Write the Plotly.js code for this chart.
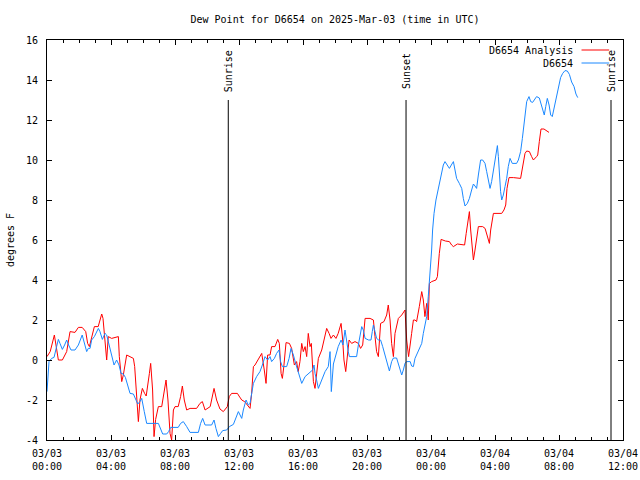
<!DOCTYPE html>
<html>
<head>
<meta charset="utf-8">
<script src="https://cdn.plot.ly/plotly-3.0.1.min.js"></script>
<style>html,body{margin:0;padding:0;background:#fff;}#chart{width:640px;height:480px;}</style>
</head>
<body>
<div id="chart"></div>
<script>
// Hours since 2025-03-03 00:00 UTC
var analysisHours = [0.0,0.2,0.46,0.55,0.71,0.96,1.23,1.44,1.75,1.96,2.2,2.42,2.54,2.65,2.96,3.2,3.42,3.5,3.62,3.73,3.83,4.04,4.46,4.52,4.67,4.77,4.98,5.4,5.48,5.6,5.71,5.81,5.96,6.1,6.2,6.4,6.48,6.6,6.69,6.79,6.96,7.17,7.31,7.44,7.56,7.69,7.79,7.9,8.0,8.2,8.35,8.46,8.58,8.73,8.94,9.35,9.56,9.71,9.88,10.2,10.44,10.6,10.81,11.02,11.27,11.39,11.54,11.9,12.0,12.17,12.35,12.54,12.69,12.79,12.9,13.0,13.2,13.42,13.58,13.69,13.79,13.94,14.04,14.25,14.42,14.52,14.63,14.71,14.8,14.94,15.15,15.29,15.46,15.6,15.7,15.81,15.92,16.02,16.13,16.23,16.33,16.44,16.52,16.65,16.75,16.85,16.96,17.17,17.33,17.48,17.63,17.75,17.9,18.06,18.2,18.38,18.48,18.56,18.67,18.77,18.88,19.04,19.25,19.46,19.6,19.73,19.88,20.19,20.4,20.5,20.6,20.71,20.85,21.06,21.23,21.33,21.44,21.54,21.65,21.75,21.96,22.17,22.375,22.48,22.6,22.79,22.9,23.0,23.1,23.27,23.42,23.52,23.62,23.73,23.83,23.9,24.04,24.31,24.4,24.52,24.63,24.9,25.15,25.29,25.4,25.65,25.92,26.1,26.2,26.33,26.4,26.48,26.56,26.65,26.75,26.85,26.96,27.23,27.38,27.5,27.65,27.73,27.83,27.9,28.42,28.56,28.67,28.75,28.875,29.15,29.6,29.7,29.77,29.875,29.98,30.15,30.29,30.4,30.6,30.67,30.77,30.875,31.06,31.23,31.375];
var analysisDew = [0.17,0.42,1.25,0.85,0.0,0.0,0.42,1.42,1.38,1.63,1.63,1.42,0.83,0.67,1.67,1.67,2.3,2.08,0.92,0.0,1.17,1.08,1.17,0.17,-1.08,-0.75,0.25,0.08,-0.33,-2.0,-3.08,-2.0,-1.42,-1.67,-1.8,-0.67,-0.17,-1.5,-3.83,-2.97,-2.33,-2.33,-1.67,-1.0,-2.0,-3.67,-4.0,-2.5,-2.33,-2.33,-1.83,-1.3,-2.0,-2.5,-2.42,-2.42,-2.17,-2.08,-2.5,-2.33,-1.42,-2.0,-2.45,-2.58,-2.33,-1.83,-1.67,-1.67,-1.8,-2.0,-2.08,-2.25,-2.42,-1.67,-0.33,-0.25,0.0,0.33,-0.5,-1.17,0.25,0.25,0.67,0.67,1.03,0.83,-0.67,-0.92,-0.33,0.87,0.83,0.58,-0.25,-0.08,-0.58,-0.08,0.83,0.42,0.67,0.17,1.33,0.67,0.83,-1.08,-1.42,-0.83,0.08,0.5,1.0,1.58,1.33,1.08,1.25,1.08,1.33,1.83,1.0,0.0,-0.58,0.33,1.0,0.83,0.92,0.83,0.58,0.75,2.08,2.08,2.0,1.17,0.42,0.17,1.83,1.92,2.25,2.75,2.0,0.83,0.17,1.33,2.08,2.25,2.5,1.0,0.17,1.33,2.0,2.0,1.92,2.67,3.42,3.0,2.17,2.83,2.0,3.83,3.92,4.0,4.17,5.33,6.03,5.95,5.92,5.75,5.67,5.8,5.78,5.75,6.33,7.17,7.42,6.5,5.75,5.0,5.5,6.0,6.67,6.67,6.58,6.25,5.83,6.5,7.17,7.33,7.33,7.5,7.75,8.58,9.12,9.12,9.08,9.58,9.92,10.33,10.45,10.42,10.17,10.0,10.17,10.25,10.92,11.55,11.55,11.45,11.38];

var stationHours = [0.0,0.06,0.125,0.29,0.44,0.6,0.71,0.81,0.96,1.1,1.23,1.35,1.5,1.75,1.96,2.2,2.33,2.48,2.58,2.69,2.79,2.96,3.21,3.31,3.46,3.625,3.73,3.9,4.04,4.19,4.35,4.5,4.625,4.77,4.9,4.98,5.19,5.4,5.54,5.67,5.81,5.92,6.08,6.23,6.96,7.1,7.23,7.48,7.6,7.73,8.2,8.35,8.52,8.73,8.94,9.46,9.6,9.73,9.88,10.29,10.44,10.56,10.71,10.85,10.98,11.23,11.4,11.65,11.85,11.96,12.17,12.27,12.44,12.58,12.69,12.79,12.9,13.1,13.31,13.46,13.625,13.79,13.94,14.04,14.21,14.35,14.5,14.6,14.71,14.98,15.13,15.25,15.4,15.54,15.75,15.92,16.13,16.33,16.6,16.69,16.75,16.85,16.96,17.17,17.38,17.58,17.69,17.73,17.77,17.9,18.1,18.2,18.38,18.5,18.625,18.73,18.83,18.9,19.35,19.46,19.56,19.67,19.77,19.88,20.1,20.25,20.33,20.4,20.5,20.6,20.73,20.85,20.98,21.125,21.27,21.4,21.54,21.65,21.85,21.96,22.06,22.17,22.27,22.375,22.48,22.7,22.79,22.9,23.0,23.15,23.31,23.42,23.52,23.625,23.73,23.83,23.94,24.04,24.1,24.19,24.31,24.46,24.56,24.67,24.77,24.875,25.02,25.15,25.27,25.4,25.5,25.6,25.77,25.92,26.02,26.125,26.27,26.4,26.54,26.65,26.75,26.85,26.96,27.1,27.23,27.375,27.48,27.58,27.69,27.79,27.9,28.0,28.1,28.15,28.21,28.27,28.35,28.42,28.52,28.625,28.73,28.83,28.94,29.08,29.35,29.46,29.6,29.71,29.8,29.9,29.98,30.125,30.23,30.35,30.5,30.6,30.77,30.85,30.98,31.08,31.17,31.27,31.38,31.48,31.58,31.69,31.79,31.9,32.0,32.1,32.23,32.375,32.52,32.65,32.79,32.94,33.06,33.17];
var stationDew = [-1.58,-1.0,-0.08,0.08,0.13,0.67,1.03,0.83,0.53,0.75,1.0,0.75,0.5,0.5,0.75,1.25,0.92,0.42,0.58,0.58,1.0,1.17,1.58,1.42,1.03,1.33,1.25,0.67,0.33,-0.25,0.0,-0.25,-0.67,-0.7,-0.87,-1.13,-1.67,-1.7,-2.0,-2.2,-2.08,-1.92,-2.58,-3.17,-3.17,-3.42,-3.7,-3.7,-3.58,-3.37,-3.37,-3.17,-3.08,-3.33,-3.62,-3.62,-3.17,-2.92,-3.25,-3.25,-3.0,-3.42,-3.83,-3.67,-3.53,-3.5,-3.33,-3.22,-2.83,-2.58,-2.92,-2.5,-2.0,-2.25,-2.17,-1.67,-1.17,-0.83,-0.58,-0.25,0.17,0.0,0.17,-0.08,0.08,0.33,0.5,-0.08,-0.33,-0.33,0.08,0.58,0.25,-0.17,-0.67,-1.17,-0.83,-0.67,-0.5,-0.25,-0.67,-1.0,-1.42,-1.0,-0.58,-0.33,0.42,-0.5,-1.58,-0.2,0.42,0.67,1.0,0.75,1.5,0.83,0.42,0.17,0.17,0.75,1.25,1.67,1.5,1.08,1.0,1.0,1.42,1.75,1.42,1.08,1.0,1.0,0.67,0.25,-0.25,-0.55,-0.08,0.1,0.1,-0.17,-0.5,-0.75,-0.5,-0.17,-0.08,-0.08,-0.3,-0.33,0.08,0.33,0.58,0.83,1.33,1.83,2.17,3.17,4.17,5.5,6.5,7.33,8.0,8.58,9.0,9.42,9.75,9.92,9.75,9.58,9.75,9.92,9.5,9.08,8.83,8.58,8.08,7.7,7.83,8.08,8.5,8.8,8.7,8.58,9.25,10.0,10.0,9.83,9.42,8.92,8.58,8.92,9.5,10.17,10.58,10.72,10.17,9.25,8.42,8.0,8.25,8.67,9.08,9.67,10.08,9.83,9.83,10.0,10.42,11.08,11.75,12.25,12.92,13.17,12.92,12.88,13.08,13.17,13.1,12.9,12.58,12.25,12.67,13.08,12.75,12.25,12.17,12.58,13.08,13.42,13.83,14.12,14.33,14.47,14.45,14.28,13.9,13.67,13.3,13.12];

var eventNames = ["Sunrise", "Sunset", "Sunrise"];
var eventHours = [11.33, 22.44, 35.25];

var seriesNames = ["D6654 Analysis", "D6654"];
var seriesColors = ["#ff0000", "#1a88ff"];

var yTickVals = [-4, -2, 0, 2, 4, 6, 8, 10, 12, 14, 16];
var yTickText = ["-4", "-2", "0", "2", "4", "6", "8", "10", "12", "14", "16"];

var T0 = Date.UTC(2025, 2, 3, 0, 0, 0);
var HOUR = 3600000;
function toTime(h) { return T0 + h * HOUR; }

var FONT = "DejaVu Sans Mono";
var fnt = {family: FONT, size: 10, color: "#000"};

var traces = [
  {x: analysisHours.map(toTime), y: analysisDew, type: "scatter", mode: "lines",
   name: seriesNames[0], line: {color: seriesColors[0], width: 1}},
  {x: stationHours.map(toTime), y: stationDew, type: "scatter", mode: "lines",
   name: seriesNames[1], line: {color: seriesColors[1], width: 1}}
];

var shapes = [];
var annotations = [];
eventHours.forEach(function (h, i) {
  shapes.push({type: "line", xref: "x", yref: "y", x0: toTime(h), x1: toTime(h),
    y0: -4, y1: 13, line: {color: "#000", width: 1}});
  annotations.push({xref: "x", yref: "y", x: toTime(h), y: 14.45, text: eventNames[i],
    textangle: -90, showarrow: false, font: fnt, xanchor: "center", yanchor: "middle"});
});

// gnuplot-style key (text on left, sample on right)
var keyY = [0.975, 0.9425];
seriesNames.forEach(function (n, i) {
  annotations.push({xref: "paper", yref: "paper", x: 0.916, y: keyY[i], text: n,
    showarrow: false, font: fnt, xanchor: "right", yanchor: "middle"});
  shapes.push({type: "line", xref: "paper", yref: "paper", x0: 0.928, x1: 0.976,
    y0: keyY[i], y1: keyY[i], line: {color: seriesColors[i], width: 1}});
});

var layout = {
  width: 640, height: 480,
  margin: {l: 47, r: 17, t: 40, b: 40, pad: 0},
  paper_bgcolor: "#fff", plot_bgcolor: "#fff",
  showlegend: false,
  font: fnt,
  title: {text: "Dew Point for D6654 on 2025-Mar-03 (time in UTC)", font: fnt,
    x: 0.5, xref: "paper", y: 1 - 19 / 480, yref: "container", yanchor: "middle"},
  xaxis: {
    type: "date", range: [toTime(0), toTime(36)],
    tickmode: "linear", tick0: toTime(0), dtick: 4 * HOUR,
    tickformat: "%m/%d<br>%H:%M", tickfont: fnt, ticklabelstandoff: 4,
    ticks: "inside", ticklen: 5, tickcolor: "#000", tickwidth: 1,
    minor: {dtick: HOUR, tick0: toTime(0), ticks: "inside", ticklen: 3, tickcolor: "#000", showgrid: false},
    showline: true, linecolor: "#000", linewidth: 1, mirror: "ticks",
    showgrid: false, zeroline: false, fixedrange: true
  },
  yaxis: {
    range: [-4, 16], tickmode: "array", tickvals: yTickVals, ticktext: yTickText,
    tickfont: fnt, ticks: "inside", ticklen: 5, tickcolor: "#000", tickwidth: 1,
    ticklabelstandoff: 6,
    showline: true, linecolor: "#000", linewidth: 1, mirror: "ticks",
    showgrid: false, zeroline: false, fixedrange: true,
    title: {text: "degrees F", font: fnt, standoff: 9}
  },
  shapes: shapes,
  annotations: annotations
};

Plotly.newPlot("chart", traces, layout, {staticPlot: true, displayModeBar: false});
</script>
</body>
</html>
